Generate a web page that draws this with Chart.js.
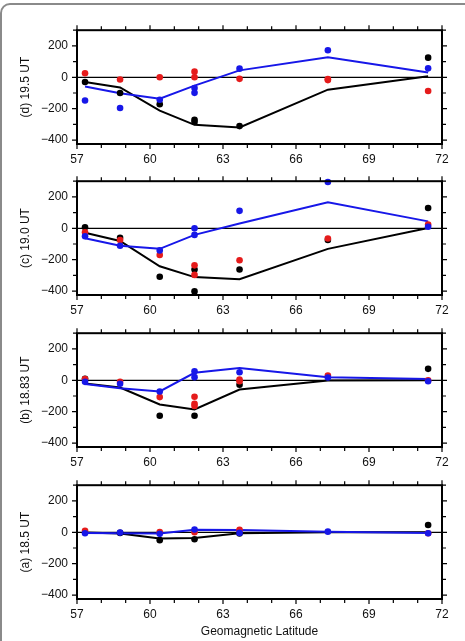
<!DOCTYPE html>
<html>
<head>
<meta charset="utf-8">
<script src="https://cdn.jsdelivr.net/npm/chart.js@4"></script>
<style>
  html, body { margin: 0; padding: 0; background: #fff; overflow: hidden; }
  body { width: 465px; height: 641px; position: relative; }
  #frame { position: absolute; left: 0; top: 3px; width: 480px; height: 660px;
           border: 2px solid #8a8a8a; border-radius: 10px; box-sizing: border-box; }
  canvas { position: absolute; left: 0; }
</style>
</head>
<body>
<div id="frame"></div>
<canvas id="pd" width="465" height="154" style="top:14px"></canvas>
<canvas id="pc" width="465" height="154" style="top:165px"></canvas>
<canvas id="pb" width="465" height="154" style="top:317px"></canvas>
<canvas id="pa" width="465" height="172" style="top:469px"></canvas>
<script>
// station latitudes (x of the line vertices)
const lat = [57.33, 58.77, 60.40, 61.83, 63.68, 67.31, 71.43];

// axis ticks
const xTicks = [57, 60, 63, 66, 69, 72];
const yTicks = [-400, -200, 0, 200];
const xMinorStep = 1;
const yMinorStep = 100;

// (d) 19.5 UT
const lineBlackD = [-30, -65, -212, -303, -320, -79, 6];
const lineBlueD  = [-59, -101, -137, -53, 44, 127, 30];
const dotsBlackD = [[57.33, -30], [58.77, -100], [60.40, -172], [61.83, -271], [61.83, -285], [63.68, -311], [71.43, 125]];
const dotsRedD   = [[57.33, 26], [58.77, -14], [60.40, 0], [61.83, 36], [61.83, 0], [63.68, -10], [67.31, -12], [67.31, -18], [71.43, -87]];
const dotsBlueD  = [[57.33, -148], [58.77, -196], [60.40, -143], [61.83, -69], [61.83, -99], [63.68, 55], [67.31, 172], [71.43, 57]];

// (c) 19.0 UT
const lineBlackC = [-28, -81, -242, -311, -325, -131, 2];
const lineBlueC  = [-63, -111, -131, -42, 30, 166, 44];
const dotsBlackC = [[57.33, 6], [58.77, -61], [60.40, -309], [61.83, -263], [61.83, -402], [63.68, -263], [67.31, -75], [71.43, 129]];
const dotsRedC   = [[57.33, -26], [58.77, -75], [60.40, -170], [61.83, -236], [61.83, -297], [63.68, -204], [67.31, -65], [71.43, 24]];
const dotsBlueC  = [[57.33, -51], [58.77, -111], [60.40, -141], [61.83, 0], [61.83, -42], [63.68, 111], [67.31, 295], [71.43, 10]];

// (b) 18.83 UT
const lineBlackB = [-20, -46, -154, -186, -59, -2, 0];
const lineBlueB  = [-24, -51, -71, 48, 79, 20, 8];
const dotsBlackB = [[57.33, 10], [60.40, -226], [61.83, -226], [63.68, -28], [71.43, 73]];
const dotsRedB   = [[57.33, 8], [58.77, -10], [60.40, -107], [61.83, -105], [61.83, -150], [61.83, -164], [63.68, 4], [63.68, -6], [67.31, 30], [71.43, 0]];
const dotsBlueB  = [[57.33, -10], [58.77, -22], [60.40, -71], [61.83, 57], [61.83, 20], [63.68, 51], [67.31, 18], [71.43, -6]];

// (a) 18.5 UT
const lineBlackA = [-2, -8, -40, -36, -6, 0, 0];
const lineBlueA  = [-4, -6, -8, 16, 14, 4, -4];
const dotsBlackA = [[58.77, -4], [60.40, -50], [61.83, -44], [63.68, -8], [71.43, 46]];
const dotsRedA   = [[57.33, 10], [60.40, 2], [61.83, 0], [63.68, 16], [71.43, -6]];
const dotsBlueA  = [[57.33, -6], [58.77, -2], [60.40, -10], [61.83, 18], [63.68, -4], [67.31, 4], [71.43, -6]];

const BLACK = '#000000';
const RED = '#e51b1b';
const BLUE = '#1717e8';

Chart.defaults.font.family = '"Liberation Sans", Arial, Helvetica, sans-serif';
Chart.defaults.font.size = 12;
Chart.defaults.color = '#111';

// frame, zero line and outward tick marks
const frameTicks = {
  id: 'frameTicks',
  beforeDatasetsDraw(chart) {
    const {ctx, chartArea: a, scales: {y}} = chart;
    const y0 = y.getPixelForValue(0);
    ctx.save();
    ctx.strokeStyle = '#000';
    ctx.lineWidth = 1.2;
    ctx.beginPath(); ctx.moveTo(a.left, y0); ctx.lineTo(a.right, y0); ctx.stroke();
    ctx.restore();
  },
  afterDatasetsDraw(chart) {
    const {ctx, chartArea: a, scales: {x, y}} = chart;
    ctx.save();
    ctx.strokeStyle = '#000';
    ctx.lineWidth = 1.2;
    ctx.beginPath();
    for (let v = x.min; v <= x.max + 1e-9; v += xMinorStep) {
      const px = x.getPixelForValue(v);
      const len = xTicks.includes(v) ? 5 : 4;
      ctx.moveTo(px, a.bottom); ctx.lineTo(px, a.bottom + len);
      ctx.moveTo(px, a.top); ctx.lineTo(px, a.top - len);
    }
    for (let v = -400; v <= 300; v += yMinorStep) {
      const py = y.getPixelForValue(v);
      const len = yTicks.includes(v) ? 5 : 4;
      ctx.moveTo(a.left, py); ctx.lineTo(a.left - len, py);
      ctx.moveTo(a.right, py); ctx.lineTo(a.right + len, py);
    }
    ctx.stroke();
    ctx.lineWidth = 2;
    ctx.strokeRect(a.left, a.top, a.right - a.left, a.bottom - a.top);
    ctx.restore();
  }
};

function dots(data, color) {
  return {
    data: data.map(p => ({x: p[0], y: p[1]})),
    backgroundColor: color, borderWidth: 0, pointRadius: 3.3,
    showLine: false, clip: false, order: 1
  };
}

function line(values, color, order) {
  return {
    data: values.map((v, i) => ({x: lat[i], y: v})),
    borderColor: color, borderWidth: 2, pointRadius: 0,
    showLine: true, tension: 0, order: order
  };
}

function makePanel(id, label, lBlack, lBlue, dBlack, dRed, dBlue, bottomTitle) {
  const xh = bottomTitle ? 42 : 24;
  new Chart(document.getElementById(id), {
    type: 'scatter',
    data: {
      datasets: [
        dots(dBlue, BLUE),
        dots(dRed, RED),
        dots(dBlack, BLACK),
        line(lBlue, BLUE, 2),
        line(lBlack, BLACK, 3)
      ]
    },
    options: {
      responsive: false,
      animation: false,
      layout: {padding: {top: 8, right: 23, left: 0, bottom: 0}},
      plugins: {legend: {display: false}, tooltip: {enabled: false}},
      scales: {
        x: {
          type: 'linear', min: 57, max: 72,
          afterBuildTicks: s => { s.ticks = xTicks.map(v => ({value: v})); },
          afterFit: s => { s.height = xh; },
          grid: {display: false, drawTicks: false},
          border: {display: false},
          ticks: {padding: 8, maxRotation: 0, autoSkip: false, color: '#111'},
          title: {
            display: !!bottomTitle, text: bottomTitle || '',
            color: '#111', padding: {top: 0, bottom: 2}
          }
        },
        y: {
          min: -425, max: 300,
          afterBuildTicks: s => { s.ticks = yTicks.map(v => ({value: v})); },
          afterFit: s => { s.width = 77; },
          grid: {display: false, drawTicks: false},
          border: {display: false},
          ticks: {
            padding: 9, color: '#111',
            callback: v => v < 0 ? '\u2212' + Math.abs(v) : String(v)
          },
          title: {display: true, text: label, color: '#111', padding: {top: 18, bottom: 0}}
        }
      }
    },
    plugins: [frameTicks]
  });
}

makePanel('pd', '(d) 19.5 UT', lineBlackD, lineBlueD, dotsBlackD, dotsRedD, dotsBlueD);
makePanel('pc', '(c) 19.0 UT', lineBlackC, lineBlueC, dotsBlackC, dotsRedC, dotsBlueC);
makePanel('pb', '(b) 18.83 UT', lineBlackB, lineBlueB, dotsBlackB, dotsRedB, dotsBlueB);
makePanel('pa', '(a) 18.5 UT', lineBlackA, lineBlueA, dotsBlackA, dotsRedA, dotsBlueA, 'Geomagnetic Latitude');
</script>
</body>
</html>
